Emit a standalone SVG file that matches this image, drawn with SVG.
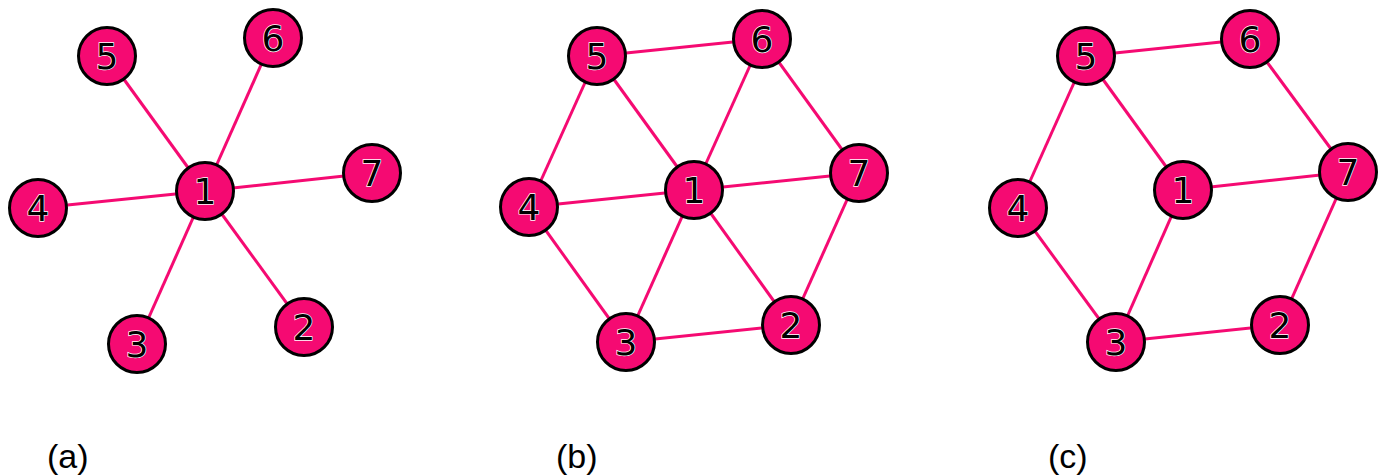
<svg xmlns="http://www.w3.org/2000/svg" width="1385" height="476" viewBox="0 0 1385 476">
<style>
.e{stroke:#f50a72;stroke-width:3;fill:none}
.n circle{fill:#f50a72;stroke:#000;stroke-width:3}
.n text{font-family:"DejaVu Sans",sans-serif;font-size:36px;text-anchor:middle;fill:#000;stroke:#fff;stroke-width:1.4;paint-order:stroke;}
.lab{font-family:"Liberation Sans",Arial,sans-serif;font-size:34px;fill:#000}
</style>
<rect width="1385" height="476" fill="#fff"/>
<g id="connectors">
<line class="e" x1="205" y1="191" x2="107" y2="56"/>
<line class="e" x1="205" y1="191" x2="273" y2="38"/>
<line class="e" x1="205" y1="191" x2="372" y2="173"/>
<line class="e" x1="205" y1="191" x2="38" y2="208"/>
<line class="e" x1="205" y1="191" x2="137" y2="344"/>
<line class="e" x1="205" y1="191" x2="304" y2="327"/>

<line class="e" x1="597" y1="56" x2="762" y2="39"/>
<line class="e" x1="597" y1="56" x2="529" y2="207"/>
<line class="e" x1="597" y1="56" x2="694" y2="190"/>
<line class="e" x1="762" y1="39" x2="694" y2="190"/>
<line class="e" x1="762" y1="39" x2="859" y2="173"/>
<line class="e" x1="694" y1="190" x2="529" y2="207"/>
<line class="e" x1="694" y1="190" x2="859" y2="173"/>
<line class="e" x1="694" y1="190" x2="626" y2="342"/>
<line class="e" x1="694" y1="190" x2="791" y2="325"/>
<line class="e" x1="529" y1="207" x2="626" y2="342"/>
<line class="e" x1="626" y1="342" x2="791" y2="325"/>
<line class="e" x1="859" y1="173" x2="791" y2="325"/>

<line class="e" x1="1086" y1="56" x2="1250" y2="39"/>
<line class="e" x1="1086" y1="56" x2="1018" y2="208"/>
<line class="e" x1="1086" y1="56" x2="1183" y2="190"/>
<line class="e" x1="1250" y1="39" x2="1348" y2="172"/>
<line class="e" x1="1183" y1="190" x2="1348" y2="172"/>
<line class="e" x1="1183" y1="190" x2="1116" y2="342"/>
<line class="e" x1="1018" y1="208" x2="1116" y2="342"/>
<line class="e" x1="1116" y1="342" x2="1280" y2="325"/>
<line class="e" x1="1348" y1="172" x2="1280" y2="325"/>
</g>
<g id="a-n1" class="n"><circle cx="205" cy="191" r="28.5"/><text x="205" y="204">1</text></g>
<g id="a-n2" class="n"><circle cx="304" cy="327" r="28.5"/><text x="304" y="340">2</text></g>
<g id="a-n3" class="n"><circle cx="137" cy="344" r="28.5"/><text x="137" y="357">3</text></g>
<g id="a-n4" class="n"><circle cx="38" cy="208" r="28.5"/><text x="38" y="221">4</text></g>
<g id="a-n5" class="n"><circle cx="107" cy="56" r="28.5"/><text x="107" y="69">5</text></g>
<g id="a-n6" class="n"><circle cx="273" cy="38" r="28.5"/><text x="273" y="51">6</text></g>
<g id="a-n7" class="n"><circle cx="372" cy="173" r="28.5"/><text x="372" y="186">7</text></g>

<g id="b-n1" class="n"><circle cx="694" cy="190" r="28.5"/><text x="694" y="203">1</text></g>
<g id="b-n2" class="n"><circle cx="791" cy="325" r="28.5"/><text x="791" y="338">2</text></g>
<g id="b-n3" class="n"><circle cx="626" cy="342" r="28.5"/><text x="626" y="355">3</text></g>
<g id="b-n4" class="n"><circle cx="529" cy="207" r="28.5"/><text x="529" y="220">4</text></g>
<g id="b-n5" class="n"><circle cx="597" cy="56" r="28.5"/><text x="597" y="69">5</text></g>
<g id="b-n6" class="n"><circle cx="762" cy="39" r="28.5"/><text x="762" y="52">6</text></g>
<g id="b-n7" class="n"><circle cx="859" cy="173" r="28.5"/><text x="859" y="186">7</text></g>

<g id="c-n1" class="n"><circle cx="1183" cy="190" r="28.5"/><text x="1183" y="203">1</text></g>
<g id="c-n2" class="n"><circle cx="1280" cy="325" r="28.5"/><text x="1280" y="338">2</text></g>
<g id="c-n3" class="n"><circle cx="1116" cy="342" r="28.5"/><text x="1116" y="355">3</text></g>
<g id="c-n4" class="n"><circle cx="1018" cy="208" r="28.5"/><text x="1018" y="221">4</text></g>
<g id="c-n5" class="n"><circle cx="1086" cy="56" r="28.5"/><text x="1086" y="69">5</text></g>
<g id="c-n6" class="n"><circle cx="1250" cy="39" r="28.5"/><text x="1250" y="52">6</text></g>
<g id="c-n7" class="n"><circle cx="1348" cy="172" r="28.5"/><text x="1348" y="185">7</text></g>

<text class="lab" x="47" y="468">(a)</text>
<text class="lab" x="556" y="468">(b)</text>
<text class="lab" x="1048" y="468">(c)</text>
</svg>
